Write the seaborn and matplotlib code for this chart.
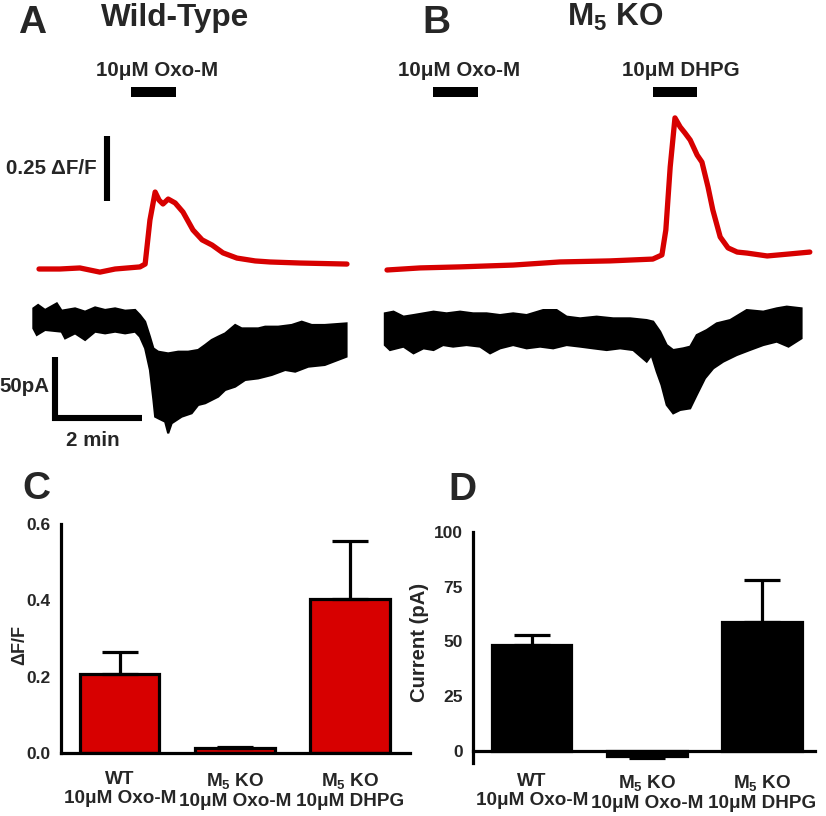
import numpy as np
import pandas as pd
import matplotlib
matplotlib.use("Agg")
import matplotlib.pyplot as plt
import seaborn as sns

sns.set_style("white")
plt.rcParams['font.family'] = ['Liberation Sans', 'DejaVu Sans']
plt.rcParams['font.weight'] = 'bold'
plt.rcParams['mathtext.fontset'] = 'custom'
plt.rcParams['mathtext.rm'] = 'Liberation Sans:bold'
plt.rcParams['mathtext.bf'] = 'Liberation Sans:bold'
plt.rcParams['mathtext.it'] = 'Liberation Sans:bold'

RED = '#D70000'
W, H = 826, 816

# ---------------- Trace data (time in min, dF/F, current in pA) -------------
wt_red_t = [0, 0.48, 0.94, 1.40, 1.75, 2.32, 2.44, 2.55, 2.67, 2.76, 2.85, 2.97, 3.13,
            3.31, 3.54, 3.75, 3.98, 4.23, 4.55, 4.97, 5.31, 6.0, 7.08]
wt_red_dff = [0, 0.0, 0.004, -0.012, 0.0, 0.008, 0.019, 0.188, 0.296, 0.265, 0.25, 0.269, 0.254,
              0.219, 0.15, 0.112, 0.092, 0.062, 0.042, 0.031, 0.027, 0.023, 0.019]

# current trace envelopes (upper edge / lower edge)
wt_top_t = [-0.13, -0.02, 0.14, 0.41, 0.52, 0.83, 1.06, 1.29, 1.52, 1.75, 1.98, 2.21, 2.32,
            2.44, 2.55, 2.63, 2.74, 2.97, 3.20, 3.43, 3.66, 3.82, 3.97, 4.12, 4.28, 4.51,
            4.66, 5.04, 5.20, 5.50, 5.81, 6.04, 6.27, 6.57, 7.07]
wt_top_pa = [7.9, 10.7, 6.6, 12.0, 6.0, 7.9, 5.2, 8.7, 6.6, 7.9, 6.0, 6.6, 2.5,
             -3.0, -15.3, -24.9, -27.6, -29.0, -27.6, -27.6, -26.2, -22.1, -18.0, -15.3, -12.6, -5.7,
             -8.5, -8.5, -7.1, -7.1, -5.7, -3.0, -5.7, -5.7, -4.4]
wt_bot_t = [-0.13, -0.05, 0.14, 0.52, 0.60, 0.83, 1.06, 1.29, 1.52, 1.75, 1.98, 2.21, 2.32,
            2.44, 2.55, 2.63, 2.67, 2.74, 2.90, 2.97, 3.05, 3.28, 3.51, 3.66, 3.82, 3.97,
            4.12, 4.28, 4.51, 4.74, 5.04, 5.35, 5.66, 5.89, 6.19, 6.57, 7.07]
wt_bot_pa = [-8.5, -13.9, -9.8, -11.2, -16.7, -12.6, -18.0, -11.2, -12.6, -11.2, -12.6, -11.2, -15.3,
             -24.9, -42.6, -67.2, -80.9, -82.2, -85.0, -94.5, -86.3, -80.9, -78.1, -71.3, -69.9, -67.2,
             -64.5, -59.0, -56.3, -50.8, -49.5, -46.7, -42.6, -44.0, -39.9, -38.5, -31.7]

ko_red_t = [0, 0.76, 1.68, 2.90, 3.98, 5.13, 6.11, 6.32, 6.41, 6.51, 6.62, 6.74, 6.85, 6.97,
            7.13, 7.24, 7.38, 7.49, 7.66, 7.84, 8.05, 8.28, 8.74, 9.27, 9.72]
ko_red_dff = [0, 0.008, 0.012, 0.019, 0.031, 0.035, 0.042, 0.058, 0.154, 0.396, 0.585, 0.55,
              0.527, 0.5, 0.442, 0.415, 0.319, 0.231, 0.127, 0.085, 0.069, 0.065, 0.054, 0.062, 0.069]

ko_top_t = [-0.05, 0.15, 0.38, 0.61, 0.84, 1.07, 1.37, 1.68, 1.98, 2.29, 2.60, 2.90, 3.21,
            3.59, 3.90, 4.13, 4.44, 4.82, 5.20, 5.59, 5.97, 6.12, 6.28, 6.43, 6.58, 6.81,
            6.97, 7.12, 7.35, 7.58, 7.89, 8.27, 8.65, 8.96, 9.19, 9.53]
ko_top_pa = [15.3, 16.7, 12.6, 13.9, 15.3, 16.7, 15.3, 16.7, 15.3, 15.3, 13.9, 15.3, 13.9,
             18.0, 18.0, 12.6, 11.2, 12.6, 11.2, 11.2, 9.8, 8.5, 0.3, -10.7, -14.8, -13.4,
             -12.0, -2.5, 1.6, 7.1, 9.8, 18.0, 16.7, 19.4, 20.8, 19.4]
ko_bot_t = [-0.05, 0.07, 0.38, 0.61, 0.84, 1.07, 1.29, 1.52, 1.83, 2.14, 2.37, 2.60, 2.90,
            3.21, 3.52, 3.82, 4.13, 4.44, 4.74, 5.05, 5.36, 5.66, 5.97, 6.08, 6.20, 6.31,
            6.43, 6.58, 6.74, 6.97, 7.12, 7.31, 7.50, 7.73, 8.04, 8.34, 8.65, 8.96, 9.23, 9.53]
ko_bot_pa = [-10.7, -14.8, -12.0, -17.5, -13.4, -14.8, -10.7, -12.0, -10.7, -12.0, -17.5, -13.4, -10.7,
             -13.4, -12.0, -13.4, -10.7, -12.0, -13.4, -14.8, -13.4, -14.8, -24.3, -18.9, -32.5, -43.4,
             -59.8, -66.7, -63.9, -62.6, -51.6, -38.0, -29.8, -24.3, -18.9, -14.8, -10.7, -7.9, -12.0, -5.2]

wt_drug = [("10\u03bcM Oxo-M", 2.11, 3.15)]
ko_drug = [("10\u03bcM Oxo-M", 1.06, 2.09), ("10\u03bcM DHPG", 6.11, 7.13)]

# ---------------- Summary data ------------------------------------------------
groups = ["WT\n10\u03bcM Oxo-M", "M$_{5}$ KO\n10\u03bcM Oxo-M", "M$_{5}$ KO\n10\u03bcM DHPG"]
dff_mean = [0.207, 0.012, 0.403]
dff_sem = [0.058, 0.005, 0.152]
cur_mean = [48.4, -2.5, 59.0]
cur_sem = [4.6, 0.5, 19.0]

fig = plt.figure(figsize=(W / 100, H / 100), dpi=100)


def trace_axes(ox, oy, sx, sy, xlim, ylim):
    x0 = ox + xlim[0] * sx
    x1 = ox + xlim[1] * sx
    ytop = oy - ylim[1] * sy
    ybot = oy - ylim[0] * sy
    ax = fig.add_axes([x0 / W, 1 - ybot / H, (x1 - x0) / W, (ybot - ytop) / H])
    ax.set_xlim(*xlim)
    ax.set_ylim(*ylim)
    ax.set_axis_off()
    ax.patch.set_alpha(0)
    return ax


def ftext(x, y, s, **kw):
    fig.text(x / W, 1 - y / H, s, fontweight='bold', **kw)


def band(ax, tt, top, bt, bot):
    xs = list(tt) + list(bt)[::-1]
    ys = list(top) + list(bot)[::-1]
    ax.fill(xs, ys, color='black', lw=1.5, edgecolor='black', joinstyle='miter')


PXMIN = 43.5
# Panel A
axAr = trace_axes(39, 269, PXMIN, 260, (-0.5, 7.5), (-0.2, 0.75))
axAb = trace_axes(39, 318, PXMIN, 1.22, (-0.5, 7.5), (-100, 25))
sns.lineplot(x=wt_red_t, y=wt_red_dff, ax=axAr, color=RED, lw=3.8, sort=False, estimator=None)
band(axAb, wt_top_t, wt_top_pa, wt_bot_t, wt_bot_pa)
for name, t0, t1 in wt_drug:
    axAr.plot([t0, t1], [0.68, 0.68], color='black', lw=7.2, solid_capstyle='butt', clip_on=False)
# scale bars
axAr.plot([1.56, 1.56], [0.26, 0.51], color='black', lw=4.4, solid_capstyle='butt', clip_on=False)
axAb.plot([0.36, 0.36, 2.36], [-32, -82, -82], color='black', lw=4.4,
          solid_capstyle='butt', solid_joinstyle='miter', clip_on=False)

# Panel B
axBr = trace_axes(387, 270, PXMIN, 260, (-0.5, 10.0), (-0.2, 0.75))
axBb = trace_axes(387, 332, PXMIN, 1.22, (-0.5, 10.0), (-100, 25))
sns.lineplot(x=ko_red_t, y=ko_red_dff, ax=axBr, color=RED, lw=3.8, sort=False, estimator=None)
band(axBb, ko_top_t, ko_top_pa, ko_bot_t, ko_bot_pa)
for name, t0, t1 in ko_drug:
    axBr.plot([t0, t1], [0.685, 0.685], color='black', lw=7.2, solid_capstyle='butt', clip_on=False)

# Texts for A/B
ftext(32, 33, "A", fontsize=28, ha='center', va='baseline')
ftext(175, 26, "Wild-Type", fontsize=22.7, ha='center', va='baseline')
ftext(436, 33, "B", fontsize=28, ha='center', va='baseline')
ftext(615, 26, "M$_{5}$ KO", fontsize=22.7, ha='center', va='baseline')
ftext(157, 76, "10\u03bcM Oxo-M", fontsize=14.8, ha='center', va='baseline')
ftext(459, 76, "10\u03bcM Oxo-M", fontsize=14.8, ha='center', va='baseline')
ftext(681, 76, "10\u03bcM DHPG", fontsize=14.8, ha='center', va='baseline')
ftext(97, 168, "0.25 \u0394F/F", fontsize=14.8, ha='right', va='center')
ftext(49, 387, "50pA", fontsize=14.8, ha='right', va='center')
ftext(93, 440, "2 min", fontsize=14.8, ha='center', va='center')
ftext(36, 489, "C", fontsize=28, ha='center', va='center')
ftext(462, 490, "D", fontsize=28, ha='center', va='center')


def style_bar_axes(ax):
    for s in ['top', 'right']:
        ax.spines[s].set_visible(False)
    for s in ['left', 'bottom']:
        ax.spines[s].set_linewidth(2.3)
        ax.spines[s].set_color('black')
    ax.tick_params(axis='y', direction='out', length=5.8, width=2.2, pad=1.5,
                   labelsize=12.5, color='black')
    for lab in ax.get_yticklabels():
        lab.set_fontweight('bold')
    ax.set_xlabel('')
    ax.patch.set_alpha(0)


def pax(x0, x1, ytop, ybot):
    return fig.add_axes([x0 / W, 1 - ybot / H, (x1 - x0) / W, (ybot - ytop) / H])


# Panel C
axC = pax(61, 410, 524, 753)
dfC = pd.DataFrame({'group': groups, 'val': dff_mean})
sns.barplot(data=dfC, x='group', y='val', ax=axC, color=RED, edgecolor='black',
            linewidth=2.3, width=0.69, errorbar=None, saturation=1)
axC.errorbar(range(3), dff_mean, yerr=[[0, 0, 0], dff_sem], fmt='none', ecolor='black',
             elinewidth=2.3, capsize=13, capthick=2.3, zorder=1)
axC.set_xlim(-0.51, 2.52)
axC.set_ylim(0, 0.6)
axC.set_yticks([0.0, 0.2, 0.4, 0.6])
axC.set_yticklabels(['0.0', '0.2', '0.4', '0.6'])
style_bar_axes(axC)
axC.tick_params(axis='x', direction='out', length=5.8, width=2.2, pad=7, labelsize=13.6)
for lab in axC.get_xticklabels():
    lab.set_fontweight('bold')
    lab.set_linespacing(1.15)
axC.set_ylabel("\u0394F/F", fontsize=13, fontweight='bold')
axC.yaxis.set_label_coords(-0.095, 0.47)

# Panel D
axD = pax(473, 815, 532, 763)
dfD = pd.DataFrame({'group': groups, 'val': cur_mean})
sns.barplot(data=dfD, x='group', y='val', ax=axD, color='black', edgecolor='black',
            linewidth=2.3, width=0.69, errorbar=None, saturation=1)
lo = [s if m < 0 else 0 for m, s in zip(cur_mean, cur_sem)]
hi = [s if m >= 0 else 0 for m, s in zip(cur_mean, cur_sem)]
axD.errorbar(range(3), cur_mean, yerr=[lo, hi], fmt='none', ecolor='black',
             elinewidth=2.3, capsize=13, capthick=2.3, zorder=1)
axD.set_xlim(-0.51, 2.46)
axD.set_ylim(-5.5, 100)
axD.set_yticks([0, 25, 50, 75, 100])
axD.set_yticklabels(['0', '25', '50', '75', '100'])
axD.spines['bottom'].set_position(('data', 0))
style_bar_axes(axD)
axD.tick_params(axis='x', length=0, pad=16, labelsize=13.6)
for lab in axD.get_xticklabels():
    lab.set_fontweight('bold')
    lab.set_linespacing(1.15)
axD.set_ylabel("Current (pA)", fontsize=14.6, fontweight='bold')
axD.yaxis.set_label_coords(-0.13, 0.52)

fig.savefig("out.png", dpi=100, facecolor='white')
